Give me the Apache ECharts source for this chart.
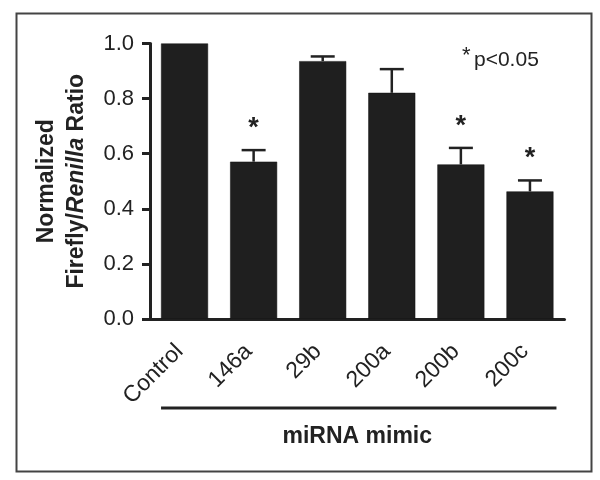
<!DOCTYPE html>
<html>
<head>
<meta charset="utf-8">
<script src="https://cdn.jsdelivr.net/npm/echarts@6/dist/echarts.min.js"></script>
<style>
html,body{margin:0;padding:0;background:#fff;}
#chart{width:600px;height:480px;}
</style>
</head>
<body>
<div id="chart"></div>
<script>
var categories = ['Control', '146a', '29b', '200a', '200b', '200c'];
var ratioMeans = [1.0, 0.571, 0.936, 0.821, 0.561, 0.463];
var ratioErrors = [0, 0.042, 0.017, 0.086, 0.060, 0.040];
var significant = [false, true, false, false, true, true];
var yTickValues = [0.0, 0.2, 0.4, 0.6, 0.8, 1.0];
var xGroupTitle = 'miRNA mimic';
var pNote = 'p<0.05';

var FONT = '"Liberation Sans", Arial, Helvetica, sans-serif';
var INK = '#222222';

var chart = echarts.init(document.getElementById('chart'), null, {renderer: 'canvas'});

var errData = ratioMeans.map(function (m, i) { return [i, m, ratioErrors[i], significant[i] ? 1 : 0]; });

function staticGraphics() {
  return [
    {type: 'rect', left: 14, top: 11, shape: {x: 0, y: 0, width: 575, height: 458},
      style: {fill: 'none', stroke: '#444', lineWidth: 2}, z: 0},
    {type: 'text', left: 462, top: 45, style: {text: '*', fontSize: 22, fontFamily: FONT, fill: INK}},
    {type: 'text', left: 474, top: 50, style: {text: pNote, fontSize: 21, fontFamily: FONT, fill: INK}}
  ];
}

var option = {
  backgroundColor: '#ffffff',
  animation: false,
  grid: {left: 150, right: 35.5, top: 43.5, bottom: 161, containLabel: false},
  xAxis: {
    type: 'category',
    data: categories,
    boundaryGap: true,
    axisLine: {show: true, lineStyle: {color: INK, width: 3}},
    axisTick: {show: false},
    axisLabel: {rotate: 45, fontSize: 23, color: INK, fontFamily: FONT, margin: 24, interval: 0,
      padding: [0, 7, 0, 0]},
    name: xGroupTitle,
    nameLocation: 'middle',
    nameGap: 106,
    nameTextStyle: {fontSize: 23, fontWeight: 'bold', color: INK, fontFamily: FONT}
  },
  yAxis: {
    type: 'value',
    min: 0,
    max: 1.0,
    interval: 0.2,
    axisLine: {show: true, lineStyle: {color: INK, width: 3}},
    axisTick: {show: true, length: 8, lineStyle: {color: INK, width: 3}},
    splitLine: {show: false},
    axisLabel: {
      fontSize: 22, color: INK, fontFamily: FONT, margin: 16,
      formatter: function (v) {
        for (var k = 0; k < yTickValues.length; k++) {
          if (Math.abs(yTickValues[k] - v) < 1e-9) return yTickValues[k].toFixed(1);
        }
        return '';
      }
    },
    name: '{b|Normalized}\n{b|Firefly/}{i|Renilla}{b| Ratio}',
    nameLocation: 'middle',
    nameRotate: 90,
    nameGap: 58,
    nameTextStyle: {
      fontSize: 23, fontWeight: 'bold', color: INK, fontFamily: FONT, lineHeight: 30,
      rich: {
        b: {fontSize: 23, fontWeight: 'bold', color: INK, fontFamily: FONT, lineHeight: 30},
        i: {fontSize: 23, fontWeight: 'bold', fontStyle: 'italic', color: INK, fontFamily: FONT, lineHeight: 30}
      }
    }
  },
  series: [
    {
      type: 'bar',
      data: ratioMeans,
      barWidth: 47,
      itemStyle: {color: '#1f1f1f', borderColor: '#111', borderWidth: 0.5},
      z: 2
    },
    {
      type: 'custom',
      data: errData,
      z: 3,
      renderItem: function (params, api) {
        var i = api.value(0), m = api.value(1), e = api.value(2), s = api.value(3);
        var base = api.coord([i, m]);
        var top = api.coord([i, m + e]);
        var children = [];
        var cap = 12;
        if (e > 0) {
          children.push({type: 'line', shape: {x1: base[0], y1: base[1], x2: top[0], y2: top[1]},
            style: {stroke: INK, lineWidth: 2.5}});
          children.push({type: 'line', shape: {x1: top[0] - cap, y1: top[1], x2: top[0] + cap, y2: top[1]},
            style: {stroke: INK, lineWidth: 2.5}});
        }
        if (s) {
          children.push({type: 'text', style: {text: '*', x: top[0], y: top[1] - 8, textAlign: 'center',
            textVerticalAlign: 'bottom', fontSize: 27, fontWeight: 'bold', fill: INK, fontFamily: FONT}});
        }
        return {type: 'group', children: children};
      }
    }
  ],
  graphic: staticGraphics()
};
chart.setOption(option);

// group bracket line under the category labels, spanning the outer bar edges
var half = 47 / 2;
var p0 = chart.convertToPixel({xAxisIndex: 0, yAxisIndex: 0}, [0, 0]);
var p1 = chart.convertToPixel({xAxisIndex: 0, yAxisIndex: 0}, [categories.length - 1, 0]);
var g = staticGraphics();
g.push({type: 'line', shape: {x1: p0[0] - half, y1: p0[1] + 89, x2: p1[0] + half + 3, y2: p1[1] + 89},
  style: {stroke: INK, lineWidth: 3}});
chart.setOption({graphic: g});
</script>
</body>
</html>
